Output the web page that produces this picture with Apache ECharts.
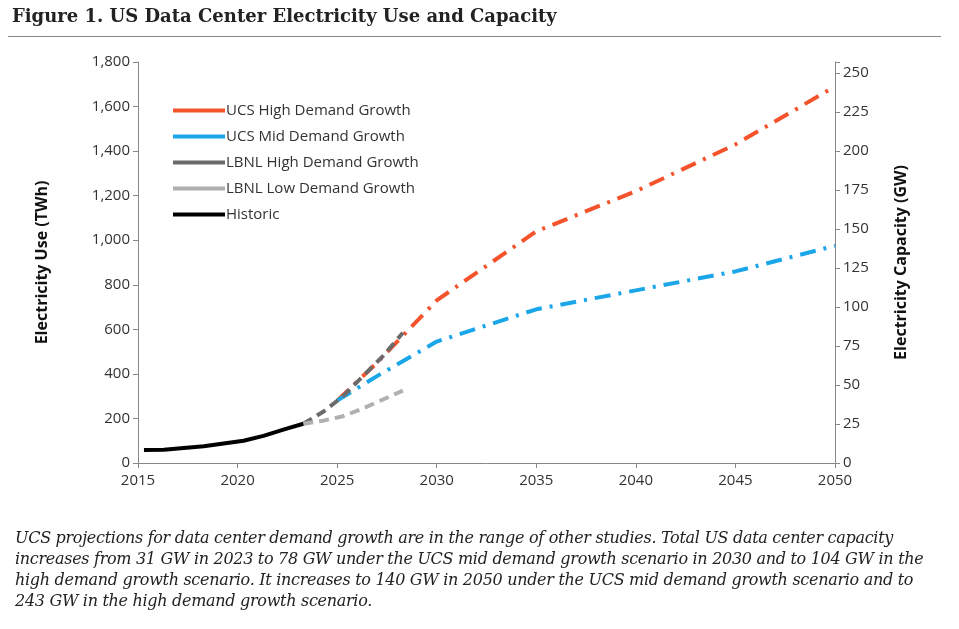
<!DOCTYPE html>
<html><head><meta charset="utf-8">
<script src="https://cdn.jsdelivr.net/npm/echarts@6/dist/echarts.min.js"></script>
<style>
body{margin:0;background:#fff;width:959px;height:629px;overflow:hidden;position:relative}
#title{position:absolute;left:12px;top:5px;font:600 18px "DejaVu Serif",serif;color:#222}
#rule{position:absolute;left:8px;right:18px;top:36px;border-top:1px solid #888}
#chart{position:absolute;left:0;top:0;width:959px;height:629px}
#cap{position:absolute;left:15px;top:527px;width:910px;font:italic 16px "DejaVu Serif",serif;line-height:21px;color:#222;letter-spacing:-0.3px}
</style></head><body>
<div id="chart"></div>
<div id="title">Figure 1. US Data Center Electricity Use and Capacity</div>
<div id="rule"></div>
<div id="cap">UCS projections for data center demand growth are in the range of other studies. Total US data center capacity increases from 31 GW in 2023 to 78 GW under the UCS mid demand growth scenario in 2030 and to 104 GW in the high demand growth scenario. It increases to 140 GW in 2050 under the UCS mid demand growth scenario and to 243 GW in the high demand growth scenario.</div>
<script>
const historic = [[2015.3,58],[2016.3,60],[2018.3,75],[2020.3,100],[2021.3,122],[2022.3,150],[2023.3,176]];
const lbnlLow = [[2023.3,176],[2024.3,190],[2025.3,210],[2026.3,245],[2027.3,285],[2028.3,325]];
const lbnlHigh = [[2023.3,176],[2024.3,230],[2025.3,300],[2026.3,390],[2027.3,480],[2028.3,585]];
const ucsHigh = [[2025,280],[2027,450],[2030,730],[2035,1040],[2040,1220],[2045,1430],[2050,1690]];
const ucsMid = [[2025,280],[2027,390],[2030,545],[2035,690],[2040,775],[2045,860],[2050,975]];
const f = 'Open Sans, sans-serif';
const chart = echarts.init(document.getElementById('chart'));
function ln(name, data, color, type, w){
  return {name, type:'line', data, showSymbol:false, symbol:'none', smooth:false,
    lineStyle:{color, width:w||4, type}, itemStyle:{color}};
}
chart.setOption({
  animation:false,
  grid:{left:138,right:124,top:62,bottom:166},
  legend:{left:168,top:98,orient:'vertical',itemGap:11,itemWidth:52,itemHeight:4,icon:'rect',
    textStyle:{fontFamily:f,fontSize:15,color:'#333',padding:[0,0,0,-4]},
    data:['UCS High Demand Growth','UCS Mid Demand Growth','LBNL High Demand Growth','LBNL Low Demand Growth','Historic']},
  xAxis:{type:'value',min:2015,max:2050,interval:5,
    axisLine:{lineStyle:{color:'#888'}},axisTick:{show:true,lineStyle:{color:'#888'}},splitLine:{show:false},
    axisLabel:{fontFamily:f,fontSize:15,color:'#333',margin:10,formatter:v=>String(v)}},
  yAxis:[{type:'value',min:0,max:1800,interval:200,name:'Electricity Use (TWh)',nameLocation:'middle',nameGap:88,
    nameTextStyle:{fontFamily:f,fontSize:16,fontWeight:'bold',color:'#111'},
    axisLine:{show:true,lineStyle:{color:'#888'}},axisTick:{show:true,lineStyle:{color:'#888'}},splitLine:{show:false},
    axisLabel:{fontFamily:f,fontSize:15,color:'#333',formatter:v=>v.toLocaleString('en-US')}},
   {type:'value',min:0,max:1800/7,interval:25,name:'Electricity Capacity (GW)',nameLocation:'middle',nameGap:58,
    nameTextStyle:{fontFamily:f,fontSize:16,fontWeight:'bold',color:'#111'},
    axisLine:{show:true,lineStyle:{color:'#888'}},axisTick:{show:true,lineStyle:{color:'#888'}},splitLine:{show:false},
    axisLabel:{fontFamily:f,fontSize:15,color:'#333',formatter:v=>v>250?'':v}}],
  series:[
    ln('UCS High Demand Growth',ucsHigh,'#f4532b',[16,8,3,8]),
    ln('UCS Mid Demand Growth',ucsMid,'#1aa6e8',[16,8,3,8]),
    ln('LBNL High Demand Growth',lbnlHigh,'#6b6b6b',[10,6]),
    ln('LBNL Low Demand Growth',lbnlLow,'#b0b0b0',[10,6]),
    ln('Historic',historic,'#000','solid')
  ]
});
</script></body></html>
